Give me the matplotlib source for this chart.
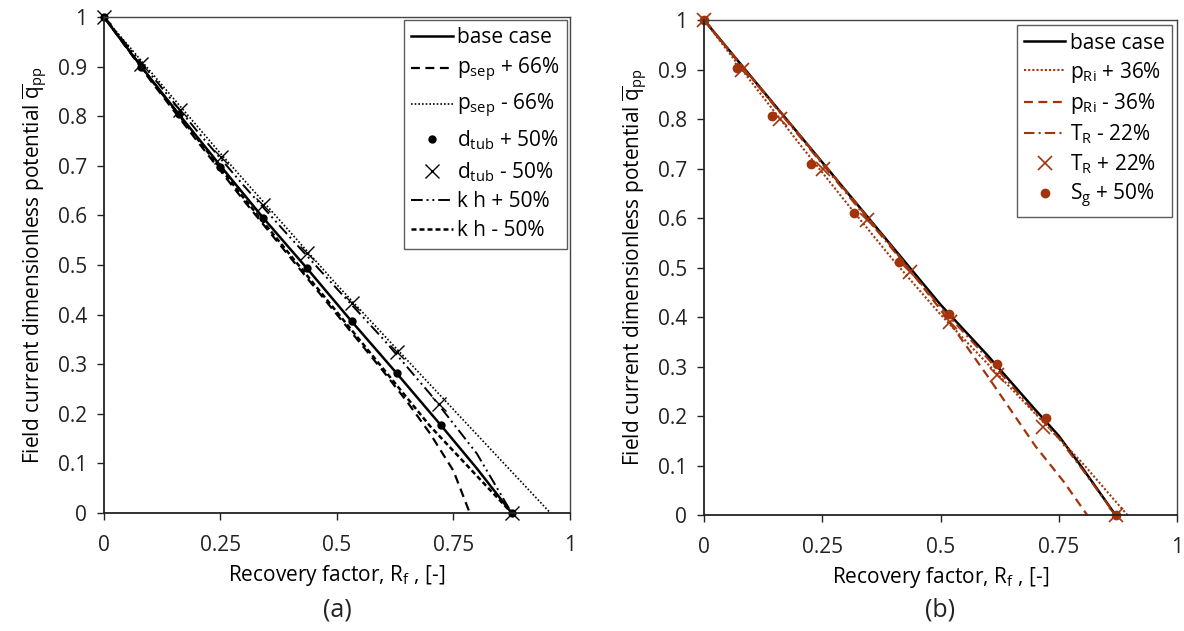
import matplotlib
matplotlib.use("Agg")
import matplotlib.pyplot as plt

plt.rcParams['font.family'] = ['Open Sans', 'DejaVu Sans']
plt.rcParams['mathtext.fontset'] = 'custom'
plt.rcParams['mathtext.rm'] = 'Open Sans'
plt.rcParams['mathtext.it'] = 'Open Sans'

# ---------------- Panel (a) data ----------------
a_base_x = [0, 0.08, 0.16, 0.25, 0.34, 0.435, 0.53, 0.627, 0.722, 0.8, 0.875]
a_base_y = [1, 0.9, 0.805, 0.7, 0.597, 0.494, 0.388, 0.283, 0.178, 0.09, 0]
a_psep_p_x = [0, 0.1, 0.2, 0.3, 0.4, 0.5, 0.6, 0.65, 0.7, 0.75, 0.785]
a_psep_p_y = [1, 0.872, 0.75, 0.63, 0.515, 0.4, 0.285, 0.225, 0.16, 0.085, 0]
a_psep_m_x = [0, 0.25, 0.5, 0.629, 0.958]
a_psep_m_y = [1, 0.725, 0.46, 0.33, 0]
a_dtub_p_x = [0, 0.08, 0.16, 0.25, 0.341, 0.435, 0.532, 0.629, 0.723, 0.875]
a_dtub_p_y = [1, 0.9, 0.805, 0.698, 0.595, 0.494, 0.387, 0.283, 0.177, 0]
a_dtub_m_x = [0, 0.08, 0.163, 0.252, 0.341, 0.435, 0.532, 0.629, 0.72, 0.875]
a_dtub_m_y = [1, 0.905, 0.813, 0.718, 0.621, 0.524, 0.423, 0.325, 0.22, 0]
a_kh_p_x = [0, 0.1, 0.2, 0.3, 0.4, 0.5, 0.6, 0.7, 0.8, 0.875]
a_kh_p_y = [1, 0.885, 0.77, 0.66, 0.555, 0.452, 0.35, 0.24, 0.12, 0]
a_kh_m_x = [0, 0.1, 0.2, 0.3, 0.4, 0.5, 0.6, 0.7, 0.8, 0.875]
a_kh_m_y = [1, 0.875, 0.755, 0.635, 0.52, 0.405, 0.29, 0.175, 0.075, 0]

# ---------------- Panel (b) data ----------------
b_base_x = [0, 0.1, 0.2, 0.3, 0.4, 0.5, 0.6, 0.7, 0.75, 0.8, 0.87]
b_base_y = [1, 0.885, 0.77, 0.655, 0.54, 0.425, 0.322, 0.213, 0.16, 0.095, 0]
b_pri_p_x = [0, 0.1, 0.2, 0.3, 0.4, 0.5, 0.6, 0.7, 0.8, 0.895]
b_pri_p_y = [1, 0.875, 0.752, 0.632, 0.515, 0.405, 0.305, 0.205, 0.105, 0]
b_pri_m_x = [0, 0.1, 0.2, 0.3, 0.4, 0.5, 0.6, 0.7, 0.76, 0.81]
b_pri_m_y = [1, 0.885, 0.77, 0.655, 0.538, 0.415, 0.28, 0.14, 0.068, 0]
b_tr_m_x = [0, 0.1, 0.2, 0.3, 0.4, 0.5, 0.6, 0.7, 0.75, 0.8, 0.87]
b_tr_m_y = [1, 0.883, 0.767, 0.651, 0.535, 0.42, 0.316, 0.207, 0.155, 0.092, 0]
b_tr_p_x = [0, 0.08, 0.161, 0.252, 0.344, 0.436, 0.52, 0.619, 0.717, 0.87]
b_tr_p_y = [1, 0.898, 0.801, 0.7, 0.596, 0.491, 0.39, 0.283, 0.178, 0]
b_sg_x = [0, 0.069, 0.143, 0.226, 0.318, 0.413, 0.517, 0.619, 0.722, 0.87]
b_sg_y = [1, 0.904, 0.807, 0.709, 0.611, 0.512, 0.407, 0.305, 0.195, 0]

x_ticks = [0, 0.25, 0.5, 0.75, 1]
x_ticklabels = ['0', '0.25', '0.5', '0.75', '1']
y_ticks = [0, 0.1, 0.2, 0.3, 0.4, 0.5, 0.6, 0.7, 0.8, 0.9, 1]
y_ticklabels = ['0', '0.1', '0.2', '0.3', '0.4', '0.5', '0.6', '0.7', '0.8', '0.9', '1']

RED = '#A3330B'
FS = 15

fig = plt.figure(figsize=(11.84, 6.31), dpi=100)
axa = fig.add_axes([0.0878, 0.187, 0.3936, 0.786])
axb = fig.add_axes([0.5946, 0.1838, 0.3995, 0.7845])

# Panel a
axa.plot(a_base_x, a_base_y, color='black', lw=1.8, ls='-', label='base case')
axa.plot(a_psep_p_x, a_psep_p_y, color='black', lw=1.6, ls=(0, (4, 2.5)), label=r'p$_{\mathrm{sep}}$ + 66%')
axa.plot(a_psep_m_x, a_psep_m_y, color='black', lw=1.2, ls=(0, (1, 1.2)), label=r'p$_{\mathrm{sep}}$ - 66%')
axa.plot(a_dtub_p_x, a_dtub_p_y, ls='none', marker='o', ms=5, color='black', label=r'd$_{\mathrm{tub}}$ + 50%')
axa.plot(a_dtub_m_x, a_dtub_m_y, ls='none', marker='x', ms=10, mew=1.0, color='black', label=r'd$_{\mathrm{tub}}$ - 50%')
axa.plot(a_kh_p_x, a_kh_p_y, color='black', lw=1.4, ls=(0, (6, 2, 1, 2, 1, 2)), label='k h + 50%')
axa.plot(a_kh_m_x, a_kh_m_y, color='black', lw=1.8, ls=(0, (2, 1.2)), label='k h - 50%')

# Panel b
axb.plot(b_base_x, b_base_y, color='black', lw=1.8, ls='-', label='base case')
axb.plot(b_pri_p_x, b_pri_p_y, color=RED, lw=1.5, ls=(0, (1, 1)), label=r'p$_{\mathrm{Ri}}$ + 36%')
axb.plot(b_pri_m_x, b_pri_m_y, color=RED, lw=1.6, ls=(0, (4, 2.5)), label=r'p$_{\mathrm{Ri}}$ - 36%')
axb.plot(b_tr_m_x, b_tr_m_y, color=RED, lw=1.5, ls=(0, (5, 2, 1, 2)), label=r'T$_{\mathrm{R}}$ - 22%')
axb.plot(b_tr_p_x, b_tr_p_y, ls='none', marker='x', ms=10, mew=1.2, color=RED, label=r'T$_{\mathrm{R}}$ + 22%')
axb.plot(b_sg_x, b_sg_y, ls='none', marker='o', ms=6, color=RED, label=r'S$_{\mathrm{g}}$ + 50%')

for ax in (axa, axb):
    ax.set_xlim(0, 1)
    ax.set_ylim(0, 1)
    ax.set_xticks(x_ticks)
    ax.set_xticklabels(x_ticklabels)
    ax.set_yticks(y_ticks)
    ax.set_yticklabels(y_ticklabels)
    ax.tick_params(axis='y', direction='out', length=5, width=1, labelsize=FS, colors='#222222', pad=7)
    ax.tick_params(axis='x', direction='out', length=5, width=1, labelsize=FS, colors='#222222', pad=11)
    for s in ('left', 'bottom'):
        ax.spines[s].set_linewidth(1.3)
        ax.spines[s].set_color('#222222')
    for s in ('top', 'right'):
        ax.spines[s].set_linewidth(1.0)
        ax.spines[s].set_color('#444444')
    ax.set_xlabel(r'Recovery factor, R$_{\mathrm{f}}$ , [-]', fontsize=FS, labelpad=5)
    ax.set_ylabel(r'Field current dimensionless potential $\overline{\mathrm{q}}_{\mathrm{pp}}$', fontsize=FS, labelpad=6)

for line in axa.lines + axb.lines:
    line.set_clip_on(False)

lega = axa.legend(loc='upper right', fontsize=FS, frameon=True, fancybox=False, edgecolor='#333333',
                  handlelength=2.0, handletextpad=0.2, borderpad=0.35, labelspacing=0.38,
                  borderaxespad=0.15)
lega.get_frame().set_linewidth(1.0)
legb = axb.legend(loc='upper right', fontsize=FS, frameon=True, fancybox=False, edgecolor='#333333',
                  handlelength=2.0, handletextpad=0.2, borderpad=0.35, labelspacing=0.3,
                  borderaxespad=0.25)
legb.get_frame().set_linewidth(1.0)

fig.text(0.285, 0.034, '(a)', fontsize=18, ha='center', va='center', color='#222222')
fig.text(0.794, 0.034, '(b)', fontsize=18, ha='center', va='center', color='#222222')

fig.savefig('out.png', dpi=100, facecolor='white')
